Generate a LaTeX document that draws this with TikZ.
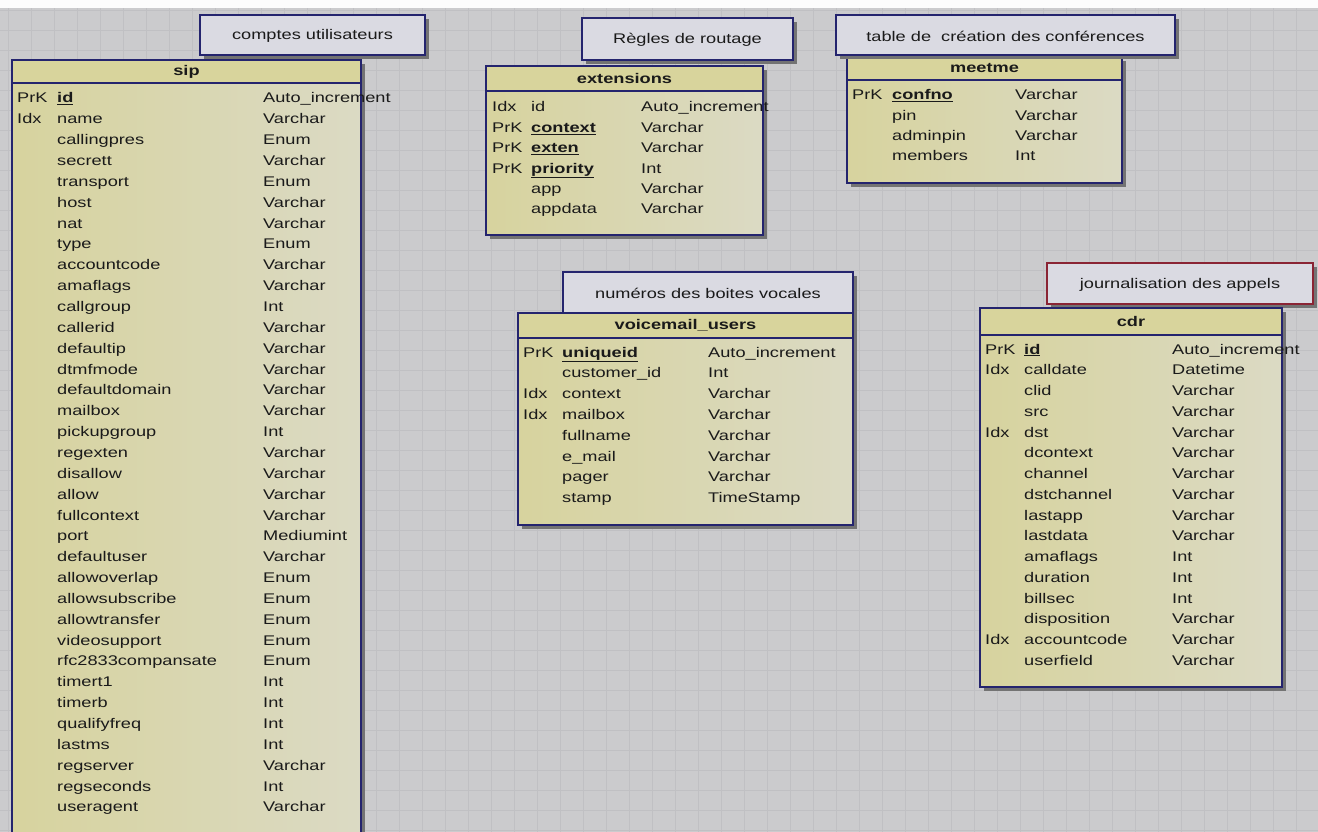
\documentclass[tikz,border=0pt]{standalone}
\usepackage{fontspec}
\setmainfont{Liberation Sans}[FakeStretch=1.3]
\definecolor{bgcol}{HTML}{CBCBCD}
\definecolor{gridcol}{HTML}{C0C0C3}
\definecolor{navy}{HTML}{24246E}
\definecolor{wine}{HTML}{8A2434}
\definecolor{headcol}{HTML}{D8D49C}
\definecolor{bodyleft}{HTML}{D7D39E}
\definecolor{bodyright}{HTML}{DBDAC4}
\definecolor{notefill}{HTML}{DADAE2}
\definecolor{inkcol}{HTML}{1A1A1A}
\newcommand\pkey[1]{\textbf{\underline{#1}}}
% table frame: id, x1, y1, x2, y2, y of header rule, title
\newcommand\dbtable[7]{%
  \fill[tshadow] ({#2+4},{#3+4}) rectangle ({#4+4},{#5+4});
  \path[tbody] (#2,#3) rectangle (#4,#5);
  \fill[thead] (#2,#3) rectangle (#4,#6);
  \draw[tline] (#2,#6) -- (#4,#6);
  \draw[tborder] (#2,#3) rectangle (#4,#5);
  \node[ttitle] (#1-title) at ({(#2+#4)/2},{(#3+#6)/2}) {#7};
}
% table rows: id, x key, x name, x type, y first row, row step, rows
\newcommand\dbrows[7]{%
  \foreach \k/\n/\t [count=\i from 0] in {#7} {
    \node[cell] (#1-k\i) at (#2,{#5+\i*#6+5}) {\k};
    \node[cell] (#1-n\i) at (#3,{#5+\i*#6+5}) {\n};
    \node[cell] (#1-t\i) at (#4,{#5+\i*#6+5}) {\t};
  }
}
% caption box: id, x1, y1, x2, y2, border colour, text
\newcommand\notebox[7]{%
  \fill[tshadow] ({#2+4},{#3+4}) rectangle ({#4+4},{#5+4});
  \draw[fill=notefill, draw=#6, line width=1.8pt] (#2,#3) rectangle (#4,#5);
  \node[notetext] (#1) at ({(#2+#4)/2},{(#3+#5)/2+1}) {#7};
}
\begin{document}
\begin{tikzpicture}[x=1pt,y=-1pt,
  tshadow/.style={fill=black!55},
  tbody/.style={left color=bodyleft, right color=bodyright},
  thead/.style={fill=headcol},
  tline/.style={draw=navy, line width=1.5pt},
  tborder/.style={draw=navy, line width=1.8pt},
  ttitle/.style={inner sep=0pt, text=inkcol, font=\fontsize{14}{16}\selectfont\bfseries},
  cell/.style={anchor=base west, inner sep=0pt, text=inkcol, font=\fontsize{14}{16}\selectfont},
  notetext/.style={inner sep=0pt, text=inkcol, font=\fontsize{14}{16}\selectfont},
  gridline/.style={draw=gridcol, line width=0.8pt}]
\clip (0,0) rectangle (1318,832);
% sheet with faint grid
\fill[bgcol] (0,0) rectangle (1318,832);
\foreach \gx in {8,31,...,1318} \draw[gridline] (\gx,0) -- (\gx,832);
\foreach \gy in {10,30,...,832} \draw[gridline] (0,\gy) -- (1318,\gy);
\fill[white!94!bgcol] (0,0) rectangle (1318,8);

% sip
\notebox{sipnote}{200}{15}{425}{55}{navy}{comptes utilisateurs}
\dbtable{sip}{12}{60}{361}{850}{83}{sip}
\dbrows{sip}{17}{57}{263}{98}{20.85}{%
  PrK/\pkey{id}/Auto\_increment, Idx/name/Varchar, {}/callingpres/Enum,
  {}/secrett/Varchar, {}/transport/Enum, {}/host/Varchar, {}/nat/Varchar,
  {}/type/Enum, {}/accountcode/Varchar, {}/amaflags/Varchar, {}/callgroup/Int,
  {}/callerid/Varchar, {}/defaultip/Varchar, {}/dtmfmode/Varchar,
  {}/defaultdomain/Varchar, {}/mailbox/Varchar, {}/pickupgroup/Int,
  {}/regexten/Varchar, {}/disallow/Varchar, {}/allow/Varchar,
  {}/fullcontext/Varchar, {}/port/Mediumint, {}/defaultuser/Varchar,
  {}/allowoverlap/Enum, {}/allowsubscribe/Enum, {}/allowtransfer/Enum,
  {}/videosupport/Enum, {}/rfc2833compansate/Enum, {}/timert1/Int,
  {}/timerb/Int, {}/qualifyfreq/Int, {}/lastms/Int, {}/regserver/Varchar,
  {}/regseconds/Int, {}/useragent/Varchar}

% extensions
\notebox{extnote}{582}{18}{793}{60}{navy}{Règles de routage}
\dbtable{ext}{486}{66}{763}{235}{91}{extensions}
\dbrows{ext}{492}{531}{641}{107}{20.4}{%
  Idx/id/Auto\_increment, PrK/\pkey{context}/Varchar, PrK/\pkey{exten}/Varchar,
  PrK/\pkey{priority}/Int, {}/app/Varchar, {}/appdata/Varchar}

% meetme
\dbtable{meet}{847}{57}{1122}{183}{80}{meetme}
\notebox{meetnote}{836}{15}{1175}{55}{navy}{table de\ \ création des conférences}
\dbrows{meet}{852}{892}{1015}{95}{20.3}{%
  PrK/\pkey{confno}/Varchar, {}/pin/Varchar, {}/adminpin/Varchar, {}/members/Int}

% voicemail_users
\notebox{vmnote}{563}{272}{853}{313}{navy}{numéros des boites vocales}
\dbtable{vm}{518}{313}{853}{525}{338}{voicemail\_users}
\dbrows{vm}{523}{562}{708}{352}{20.8}{%
  PrK/\pkey{uniqueid}/Auto\_increment, {}/customer\_id/Int, Idx/context/Varchar,
  Idx/mailbox/Varchar, {}/fullname/Varchar, {}/e\_mail/Varchar,
  {}/pager/Varchar, {}/stamp/TimeStamp}

% cdr
\notebox{cdrnote}{1047}{263}{1313}{304}{wine}{journalisation des appels}
\dbtable{cdr}{980}{308}{1282}{687}{335}{cdr}
\dbrows{cdr}{985}{1024}{1172}{349}{20.75}{%
  PrK/\pkey{id}/Auto\_increment, Idx/calldate/Datetime, {}/clid/Varchar,
  {}/src/Varchar, Idx/dst/Varchar, {}/dcontext/Varchar, {}/channel/Varchar,
  {}/dstchannel/Varchar, {}/lastapp/Varchar, {}/lastdata/Varchar,
  {}/amaflags/Int, {}/duration/Int, {}/billsec/Int, {}/disposition/Varchar,
  Idx/accountcode/Varchar, {}/userfield/Varchar}
\end{tikzpicture}
\end{document}
